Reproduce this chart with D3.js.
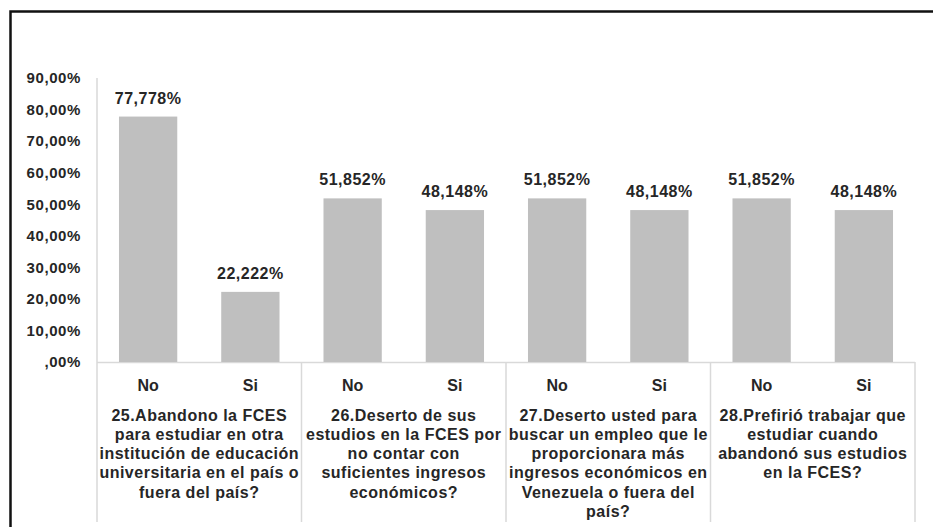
<!DOCTYPE html>
<html>
<head>
<meta charset="utf-8">
<script src="https://cdn.jsdelivr.net/npm/d3@7"></script>
<style>
  body { margin: 0; background: #fff; }
  svg text { font-family: "Liberation Sans", Arial, sans-serif; font-weight: bold; fill: #262626; }
</style>
</head>
<body>
<script>
// ! Data
const answers = ["No", "Si", "No", "Si", "No", "Si", "No", "Si"];
const values = [77.778, 22.222, 51.852, 48.148, 51.852, 48.148, 51.852, 48.148];
const yTicks = [0, 10, 20, 30, 40, 50, 60, 70, 80, 90];
const questions = [
  ["25.Abandono la FCES", "para estudiar en otra", "institución de educación", "universitaria en el país o", "fuera del país?"],
  ["26.Deserto de sus", "estudios en la FCES por", "no contar con", "suficientes ingresos", "económicos?"],
  ["27.Deserto usted para", "buscar un empleo que le", "proporcionara más", "ingresos económicos en", "Venezuela o fuera del", "país?"],
  ["28.Prefirió trabajar que", "estudiar cuando", "abandonó sus estudios", "en la FCES?"],
];

const width = 933;
const height = 527;
const margin = { top: 78, left: 97, right: 18, bottom: 165 };
const baseY = height - margin.bottom;

const svg = d3
  .select("body")
  .append("svg")
  .attr("width", width)
  .attr("height", height);

// ! Frame
svg
  .append("path")
  .attr("d", `M10.5,${height} V11.5 H${width}`)
  .attr("fill", "none")
  .attr("stroke", "#111")
  .attr("stroke-width", 2.5);

// ! Scales
const idx = answers.map((d, i) => i);
const xScale = d3
  .scaleBand()
  .domain(idx)
  .range([margin.left, width - margin.right])
  .paddingInner(0.43)
  .paddingOuter(0.215);

const yScale = d3.scaleLinear().domain([0, 90]).range([baseY, margin.top]);

const groupScale = d3
  .scaleBand()
  .domain(questions.map((d, i) => i))
  .range([margin.left, width - margin.right]);

// ! Y axis labels
const fmt = (v) => {
  const s = v.toFixed(2).replace(".", ",") + "%";
  return s.startsWith("0,") ? s.slice(1) : s;
};
const yAxisG = svg
  .append("g")
  .attr("transform", `translate(${margin.left},0)`)
  .call(d3.axisLeft(yScale).tickValues(yTicks).tickSize(0).tickPadding(16).tickFormat(fmt));
yAxisG.select(".domain").remove();
yAxisG
  .selectAll("text")
  .style("font-size", "15px")
  .style("letter-spacing", "0.6px");

// ! Grid / category lines
svg
  .append("line")
  .attr("x1", margin.left)
  .attr("x2", width - margin.right)
  .attr("y1", baseY + 0.5)
  .attr("y2", baseY + 0.5)
  .attr("stroke", "#d9d9d9")
  .attr("stroke-width", 1.5);

const dividers = questions.map((d, i) => groupScale(i)).concat([width - margin.right]);
svg
  .selectAll(".divider")
  .data(dividers)
  .enter()
  .append("line")
  .attr("class", "divider")
  .attr("x1", (d) => d)
  .attr("x2", (d) => d)
  .attr("y1", (d, i) => (i === 0 ? margin.top : baseY))
  .attr("y2", 522)
  .attr("stroke", "#d9d9d9")
  .attr("stroke-width", 1.5);

// ! Bars
svg
  .selectAll(".bar")
  .data(values)
  .enter()
  .append("rect")
  .attr("class", "bar")
  .attr("x", (d, i) => xScale(i))
  .attr("y", (d) => yScale(d))
  .attr("width", xScale.bandwidth())
  .attr("height", (d) => baseY - yScale(d))
  .attr("fill", "#bfbfbf");

// ! Value labels
svg
  .selectAll(".valueLabel")
  .data(values)
  .enter()
  .append("text")
  .attr("class", "valueLabel")
  .attr("x", (d, i) => xScale(i) + xScale.bandwidth() / 2)
  .attr("y", (d) => yScale(d) - 13)
  .attr("text-anchor", "middle")
  .style("font-size", "16px")
  .style("letter-spacing", "0.5px")
  .text((d) => d.toFixed(3).replace(".", ",") + "%");

// ! Answer labels
svg
  .selectAll(".answer")
  .data(answers)
  .enter()
  .append("text")
  .attr("class", "answer")
  .attr("x", (d, i) => xScale(i) + xScale.bandwidth() / 2)
  .attr("y", 391)
  .attr("text-anchor", "middle")
  .style("font-size", "16px")
  .text((d) => d);

// ! Question labels
const qG = svg
  .selectAll(".question")
  .data(questions)
  .enter()
  .append("text")
  .attr("class", "question")
  .attr("text-anchor", "middle")
  .style("font-size", "16px")
  .style("letter-spacing", "0.5px");
qG.selectAll("tspan")
  .data((d, i) => d.map((line) => ({ line, g: i })))
  .enter()
  .append("tspan")
  .attr("x", (d) => groupScale(d.g) + groupScale.bandwidth() / 2)
  .attr("y", (d, j) => 420.5 + j * 19.3)
  .text((d) => d.line);
</script>
</body>
</html>
